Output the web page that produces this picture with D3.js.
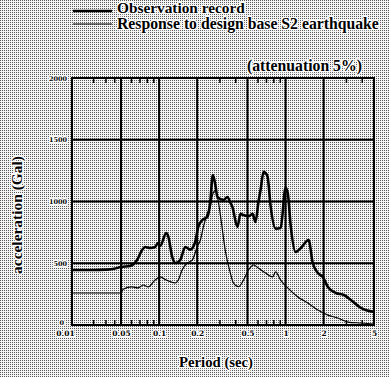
<!DOCTYPE html>
<html>
<head>
<meta charset="utf-8">
<script src="https://cdn.jsdelivr.net/npm/d3@7"></script>
<style>
  body { margin: 0; background: #fff; }
  svg { display: block; }
  text { font-family: "Liberation Serif", "DejaVu Serif", serif; fill: #000; }
  .halo { paint-order: stroke; stroke: #fff; stroke-width: 2.5px; stroke-linejoin: round; }
</style>
</head>
<body>
<svg id="chart" width="389" height="377"></svg>
<script>
// Observation record (period sec, acceleration Gal)
const obsPeriod = [0.01, 0.02, 0.03, 0.04, 0.05, 0.059, 0.067, 0.0734, 0.0775, 0.085, 0.093, 0.098, 0.102, 0.114, 0.118, 0.127, 0.134, 0.147, 0.161, 0.176, 0.193, 0.204, 0.22, 0.241, 0.254, 0.266, 0.279, 0.289, 0.323, 0.347, 0.366, 0.38, 0.416, 0.44, 0.465, 0.509, 0.548, 0.578, 0.611, 0.634, 0.67, 0.695, 0.721, 0.762, 0.834, 0.914, 1.0, 1.04, 1.1, 1.2, 1.32, 1.52, 1.64, 1.8, 1.97, 2.16, 2.5, 2.89, 3.28, 3.94, 5.0];
const obsAccel  = [445, 445, 448, 455, 470, 478, 526, 607, 632, 624, 632, 664, 640, 745, 720, 551, 502, 526, 632, 610, 672, 794, 850, 875, 1000, 1215, 1130, 1037, 1012, 1037, 990, 956, 794, 900, 890, 880, 900, 834, 1000, 1093, 1240, 1230, 1199, 960, 780, 786, 1110, 1069, 794, 591, 624, 688, 502, 421, 389, 308, 259, 243, 203, 138, 105];

// Response to design base S2 earthquake
const s2Period = [0.01, 0.05, 0.052, 0.061, 0.068, 0.075, 0.082, 0.093, 0.102, 0.114, 0.134, 0.142, 0.152, 0.167, 0.183, 0.2, 0.212, 0.224, 0.241, 0.254, 0.264, 0.279, 0.294, 0.311, 0.334, 0.366, 0.387, 0.424, 0.465, 0.509, 0.558, 0.611, 0.695, 0.789, 0.834, 0.914, 1.04, 1.25, 1.5, 1.8, 2.16, 2.59, 3.11, 3.94, 5.0];
const s2Accel  = [259, 259, 290, 308, 300, 324, 308, 364, 389, 364, 340, 364, 445, 502, 526, 632, 688, 794, 907, 956, 1050, 1090, 1000, 830, 600, 420, 340, 310, 364, 445, 486, 460, 421, 389, 430, 364, 300, 227, 178, 121, 80, 57, 24, 16, 8];

const xTicks = [0.01, 0.05, 0.1, 0.2, 0.5, 1, 2, 5];
const xTickLabels = ["0.01", "0.05", "0.1", "0.2", "0.5", "1", "2", "5"];
const xMinor = [0.02, 0.03, 0.04, 0.06, 0.07, 0.08, 0.09, 0.3, 0.4, 0.6, 0.7, 0.8, 0.9, 3, 4];
const yTicks = [0, 500, 1000, 1500, 2000];
const yTickLabels = ["0", "500", "1000", "1500", "2000"];

const svg = d3.select("#chart");

// halftone-ish background
const defs = svg.append("defs");
const pat = defs.append("pattern").attr("id", "dots")
  .attr("width", 2).attr("height", 2).attr("patternUnits", "userSpaceOnUse");
pat.append("rect").attr("width", 2).attr("height", 2).attr("fill", "#f4f4f4");
pat.append("rect").attr("width", 1).attr("height", 1).attr("fill", "#5a5a5a");
svg.append("rect").attr("width", 389).attr("height", 377).attr("fill", "url(#dots)");

const pLeft = 72, pRight = 374, pTop = 78, pBottom = 325;

// log axis, squeezed below 0.05 like the original
const x = d3.scaleLog().domain([0.01, 0.05, 5]).range([pLeft, 121, pRight]);
const y = d3.scaleLinear().domain([0, 2000]).range([pBottom, pTop]);

// grid
const grid = svg.append("g").attr("stroke", "#000").attr("stroke-width", 2);
grid.selectAll("line.v").data(xTicks.slice(1, -1)).enter().append("line")
  .attr("x1", d => x(d)).attr("x2", d => x(d)).attr("y1", pTop).attr("y2", pBottom);
grid.selectAll("line.h").data(yTicks.slice(1, -1)).enter().append("line")
  .attr("x1", pLeft).attr("x2", pRight).attr("y1", d => y(d)).attr("y2", d => y(d));
grid.append("rect").attr("x", pLeft).attr("y", pTop)
  .attr("width", pRight - pLeft).attr("height", pBottom - pTop).attr("fill", "none");

// minor ticks, bottom and top
const minorB = svg.append("g").attr("transform", `translate(0,${pBottom})`)
  .call(d3.axisBottom(x).tickValues(xMinor).tickSize(-5).tickFormat(""));
const minorT = svg.append("g").attr("transform", `translate(0,${pTop})`)
  .call(d3.axisTop(x).tickValues(xMinor).tickSize(-5).tickFormat(""));
[minorB, minorT].forEach(g => {
  g.select(".domain").remove();
  g.selectAll(".tick line").attr("stroke", "#000").attr("stroke-width", 1.5);
});

// tick labels
const xAxis = svg.append("g").attr("transform", `translate(0,${pBottom})`)
  .call(d3.axisBottom(x).tickValues(xTicks).tickSize(0).tickPadding(6)
    .tickFormat((d, i) => xTickLabels[i]));
xAxis.select(".domain").remove();
xAxis.selectAll("text").attr("font-size", 7.5).attr("font-weight", "bold")
  .style("font-family", "DejaVu Serif, serif").attr("fill", "#000").attr("class", "halo");
xAxis.selectAll(".tick").filter(d => d === 0.01).select("text").attr("dx", -7);

const yAxis = svg.append("g").attr("transform", `translate(${pLeft},0)`)
  .call(d3.axisLeft(y).tickValues(yTicks).tickSize(0).tickPadding(5)
    .tickFormat((d, i) => yTickLabels[i]));
yAxis.select(".domain").remove();
yAxis.selectAll("text").attr("font-size", 6.5).attr("font-weight", "bold")
  .style("font-family", "DejaVu Serif, serif").attr("fill", "#000").attr("class", "halo");
yAxis.selectAll(".tick").filter(d => d === 0).select("text").attr("dx", -3).attr("dy", "-0.1em");

// curves
const line = d3.line().x(d => x(d[0])).y(d => y(d[1])).curve(d3.curveMonotoneX);
svg.append("path").datum(d3.zip(s2Period, s2Accel)).attr("d", line)
  .attr("fill", "none").attr("stroke", "#000").attr("stroke-width", 1.2);
svg.append("path").datum(d3.zip(obsPeriod, obsAccel)).attr("d", line)
  .attr("fill", "none").attr("stroke", "#000").attr("stroke-width", 2.6)
  .attr("stroke-linejoin", "round");

// fit a text element to a target width
function fit(t, w) {
  const len = t.node().getComputedTextLength();
  const fs = parseFloat(t.attr("font-size"));
  t.attr("font-size", fs * w / len);
}

// legend
svg.append("line").attr("x1", 73).attr("x2", 112).attr("y1", 11).attr("y2", 11)
  .attr("stroke", "#000").attr("stroke-width", 2.6);
svg.append("line").attr("x1", 73).attr("x2", 112).attr("y1", 24).attr("y2", 24)
  .attr("stroke", "#000").attr("stroke-width", 1.2);
const l1 = svg.append("text").attr("class", "halo").attr("x", 117).attr("y", 13).attr("font-size", 13)
  .attr("font-weight", "bold").text("Observation record");
fit(l1, 128);
const l2 = svg.append("text").attr("class", "halo").attr("x", 117).attr("y", 29).attr("font-size", 13)
  .attr("font-weight", "bold").text("Response to design base S2 earthquake");
fit(l2, 262);
const at = svg.append("text").attr("class", "halo").attr("x", 247).attr("y", 71).attr("font-size", 13)
  .attr("font-weight", "bold").text("(attenuation 5%)");
fit(at, 115);

// axis titles
const xt = svg.append("text").attr("class", "halo").attr("x", 216).attr("y", 367)
  .attr("text-anchor", "middle").attr("font-size", 13).attr("font-weight", "bold").text("Period (sec)");
fit(xt, 74);
const yt = svg.append("text").attr("class", "halo").attr("transform", "translate(22,215) rotate(-90)")
  .attr("text-anchor", "middle").attr("font-size", 13).attr("font-weight", "bold").text("acceleration (Gal)");
fit(yt, 118);
</script>
</body>
</html>
